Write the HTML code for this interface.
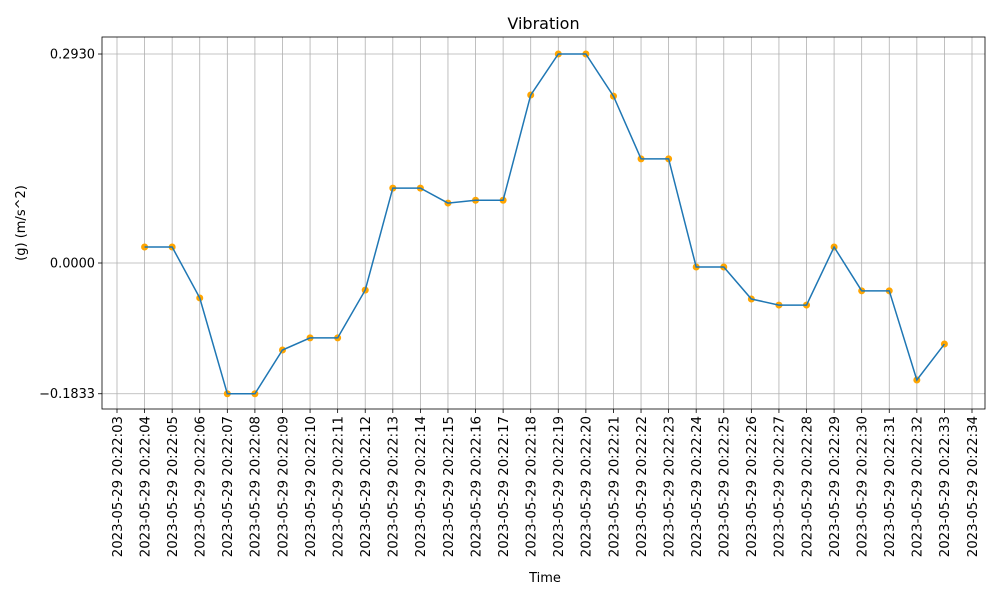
<!DOCTYPE html>
<html><head><meta charset="utf-8"><style>
body{margin:0;background:#fff;}
svg text{font-family:"DejaVu Sans","Liberation Sans",sans-serif;fill:#000;}
</style></head><body>
<svg id="chart" width="1000" height="600" xmlns="http://www.w3.org/2000/svg">
<text x="543.5" y="29" font-size="16" text-anchor="middle">Vibration</text>
<g id="grid"></g>
<g id="axes"></g>
<g id="series"></g>
<text x="545" y="582" font-size="13" text-anchor="middle">Time</text>
<text transform="translate(25,223) rotate(-90)" font-size="13" text-anchor="middle">(g) (m/s^2)</text>
</svg>
<script>
const seconds = [4,5,6,7,8,9,10,11,12,13,14,15,16,17,18,19,20,21,22,23,24,25,26,27,28,29,30,31,32,33];
const values = [0.0224,0.0224,-0.049,-0.1833,-0.1833,-0.122,-0.105,-0.105,-0.038,0.105,0.105,0.084,0.088,0.088,0.2355,0.293,0.293,0.234,0.146,0.146,-0.0056,-0.0056,-0.0505,-0.059,-0.059,0.0224,-0.039,-0.039,-0.164,-0.1136];
const xTickSeconds = [3,4,5,6,7,8,9,10,11,12,13,14,15,16,17,18,19,20,21,22,23,24,25,26,27,28,29,30,31,32,33,34];
const yTickValues = [-0.1833,0,0.293];
const yTickLabels = ["\u22120.1833","0.0000","0.2930"];

const NS="http://www.w3.org/2000/svg";
const L=102,R=985,T=37,B=409;
const x=s=>117+(s-3)*(972-117)/31;
const y=v=>263-v/0.001402;
function mk(tag,attrs,parent){const e=document.createElementNS(NS,tag);for(const k in attrs)e.setAttribute(k,attrs[k]);document.getElementById(parent).appendChild(e);return e;}

xTickSeconds.forEach(s=>{
  const g=mk('line',{x1:x(s),x2:x(s),y1:T,y2:B,stroke:'#b0b0b0','stroke-width':0.8},'grid');
  
  
  const t=mk('line',{x1:x(s),x2:x(s),y1:B,y2:B+4,stroke:'#000','stroke-width':0.8},'axes');
  
  
  const lb=mk('text',{transform:`translate(${x(s)+4.8},${B+7}) rotate(-90)`,'font-size':13.3,'text-anchor':'end'},'axes');
  lb.textContent='2023-05-29 20:22:'+String(s).padStart(2,'0');
  
  
});
yTickValues.forEach((v,i)=>{
  const g=mk('line',{x1:L,x2:R,y1:y(v),y2:y(v),stroke:'#b0b0b0','stroke-width':0.8},'grid');
  
  
  const t=mk('line',{x1:L-4,x2:L,y1:y(v),y2:y(v),stroke:'#000','stroke-width':0.8},'axes');
  
  
  const lb=mk('text',{x:L-7,y:y(v)+4.5,'font-size':12.9,'text-anchor':'end'},'axes');
  lb.textContent=yTickLabels[i];
  
  
});
const frame=mk('rect',{x:L,y:T,width:R-L,height:B-T,fill:'none',stroke:'#000','stroke-width':0.8},'axes');



const line=mk('polyline',{points:seconds.map((s,i)=>x(s)+','+y(values[i])).join(' '),fill:'none',stroke:'#1f77b4','stroke-width':1.5},'series');


seconds.forEach((s,i)=>{
  const c=mk('circle',{cx:x(s),cy:y(values[i]),r:3.5,fill:'orange'},'series');
  
  
});
document.getElementById('series').appendChild(line);
</script>
</body></html>
